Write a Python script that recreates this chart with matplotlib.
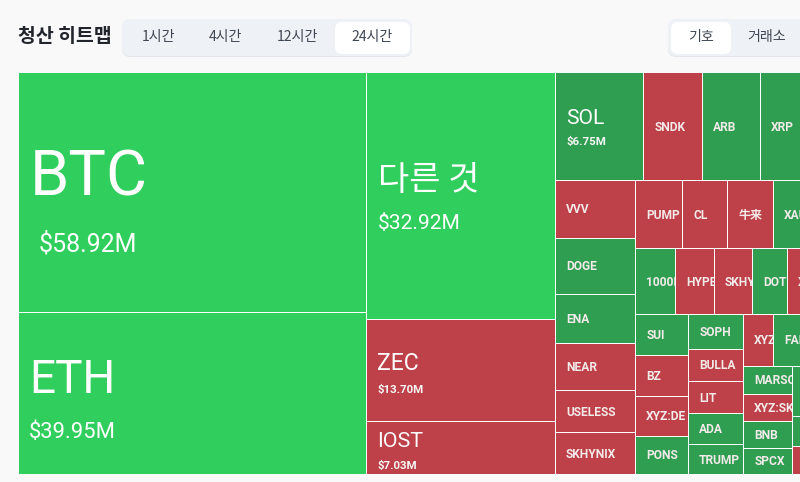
import matplotlib
matplotlib.use("Agg")
import matplotlib.pyplot as plt
from matplotlib.patches import Rectangle, FancyBboxPatch

# ---- data ($M; tiles past the crop are estimated) ----
symbols = ['BTC', 'ETH', '다른 것', 'ZEC', 'IOST',
           'SOL', 'SNDK', 'ARB', 'XRP',
           'VVV', 'DOGE', 'ENA', 'NEAR', 'USELESS', 'SKHYNIX',
           'PUMP', 'CL', '牛来', 'XAU',
           '1000P', 'HYPE', 'SKHY', 'DOT', 'XPL',
           'SUI', 'BZ', 'XYZ:DE', 'PONS',
           'SOPH', 'BULLA', 'LIT', 'ADA', 'TRUMP',
           'XYZ', 'FAR',
           'MARSO', 'XYZ:SK', 'BNB', 'SPCX',
           '', ' ', '  ']
values = [58.92, 39.95, 32.92, 13.70, 7.03,
          6.75, 4.52, 4.39, 4.30,
          3.25, 3.18, 2.80, 2.67, 2.38, 2.37,
          2.25, 2.15, 2.20, 2.05,
          1.84, 1.81, 1.77, 1.63, 1.34,
          1.52, 1.54, 1.50, 1.42,
          1.36, 1.25, 1.25, 1.21, 1.16,
          1.10, 1.56,
          0.97, 0.94, 0.93, 0.91,
          0.83, 0.50, 0.47]
kinds = ['top', 'top', 'top', 'short', 'short',
         'long', 'short', 'long', 'long',
         'short', 'long', 'long', 'short', 'short', 'short',
         'short', 'short', 'short', 'long',
         'long', 'short', 'short', 'long', 'short',
         'long', 'short', 'short', 'long',
         'long', 'short', 'short', 'long', 'long',
         'short', 'long',
         'long', 'short', 'long', 'long',
         'long', 'long', 'short']
tabs_time = ['1시간', '4시간', '12시간', '24시간']
tabs_group = ['기호', '거래소']
title = '청산 히트맵'

value_of = dict(zip(symbols, values))
kind_of = dict(zip(symbols, kinds))

# nesting of the treemap: 'h' lays children side by side, 'v' stacks them
tree = ('h', [
    ('v', ['BTC', 'ETH']),
    ('v', ['다른 것', 'ZEC', 'IOST']),
    ('v', [
        ('h', ['SOL', 'SNDK', 'ARB', 'XRP']),
        ('h', [
            ('v', ['VVV', 'DOGE', 'ENA', 'NEAR', 'USELESS', 'SKHYNIX']),
            ('v', [
                ('h', ['PUMP', 'CL', '牛来', 'XAU']),
                ('h', ['1000P', 'HYPE', 'SKHY', 'DOT', 'XPL']),
                ('h', [
                    ('v', ['SUI', 'BZ', 'XYZ:DE', 'PONS']),
                    ('v', ['SOPH', 'BULLA', 'LIT', 'ADA', 'TRUMP']),
                    ('v', [
                        ('h', ['XYZ', 'FAR']),
                        ('h', [
                            ('v', ['MARSO', 'XYZ:SK', 'BNB', 'SPCX']),
                            ('v', ['', ' ', '  ']),
                        ]),
                    ]),
                ]),
            ]),
        ]),
    ]),
])

# ---- style ----
BG = '#F9F9FA'
COLORS = {'top': '#30CE5C', 'long': '#2F9E51', 'short': '#BE4048'}
LATIN = ['Roboto', 'Noto Sans CJK KR']
KR = ['Noto Sans CJK KR', 'Roboto']

# px-based canvas
fig = plt.figure(figsize=(8.0, 4.82), dpi=100, facecolor=BG)
ax = fig.add_axes([0, 0, 1, 1])
ax.set_xlim(0, 800)
ax.set_ylim(482, 0)
ax.axis('off')

PX = 0.72  # points per pixel at dpi 100
MAP_X, MAP_Y, MAP_H = 19.0, 73.0, 402.0
AREA_PER_M = 1412.0
GAP = 1.0


def total(node):
    if isinstance(node, str):
        return value_of[node]
    return sum(total(c) for c in node[1])


def layout(node, x, y, w, h, out):
    if isinstance(node, str):
        out[node] = (x, y, w, h)
        return
    direction, children = node
    s = total(node)
    for c in children:
        f = total(c) / s
        if direction == 'h':
            layout(c, x, y, w * f, h, out)
            x += w * f
        else:
            layout(c, x, y, w, h * f, out)
            y += h * f


rects = {}
MAP_W = AREA_PER_M * total(tree) / 401.0
layout(tree, MAP_X, MAP_Y, MAP_W, MAP_H, rects)

ax.add_patch(Rectangle((MAP_X, MAP_Y), MAP_W - GAP, MAP_H - GAP, facecolor='white',
                       edgecolor='none', zorder=1))

# big tiles: name size px, name dx, name baseline, amount size px, amount dx, amount baseline
big = {
    'BTC': (63, 10.5, 196, 25, 20, 252),
    'ETH': (46, 10, 393, 22, 10, 438.5),
    '다른 것': (34, 10.5, 190, 21, 11, 229),
    'ZEC': (23, 9.5, 369.5, 11.5, 10, 392.5),
    'IOST': (21.5, 9.5, 447, 11.5, 10, 468.5),
    'SOL': (21, 10, 124, 11.5, 10, 145),
}

for sym in symbols:
    x, y, w, h = rects[sym]
    r = Rectangle((x, y), w - GAP, h - GAP, facecolor=COLORS[kind_of[sym]],
                  edgecolor='none', zorder=2)
    ax.add_patch(r)
    if not sym.strip():
        continue
    if sym in big:
        ns, ndx, ny, vs, vdx, vy = big[sym]
        fam = KR if sym == '다른 것' else LATIN
        ax.text(x + ndx, ny, sym, fontsize=ns * PX, color='white', family=fam,
                ha='left', va='baseline', zorder=3)
        ax.text(x + vdx, vy, f'${value_of[sym]:.2f}M', fontsize=vs * PX,
                color='#F6F6F6' if vs < 15 else 'white', family=LATIN,
                ha='left', va='baseline', zorder=3,
                fontweight='bold' if vs < 15 else 'normal')
    else:
        t = ax.text(x + 10, y + (h - GAP) / 2 + 4, sym, fontsize=12 * PX, color='#F3EAEA',
                    family=LATIN, fontweight='bold', ha='left', va='baseline', zorder=3,
                    clip_on=True)
        t.set_clip_path(r)


def pill(x0, y0, x1, y1, rad, fc, z):
    p = FancyBboxPatch((x0 + rad, y0 + rad), x1 - x0 - 2 * rad, y1 - y0 - 2 * rad,
                       boxstyle=f'round,pad={rad},rounding_size={rad}',
                       facecolor=fc, edgecolor='none', linewidth=0, zorder=z)
    ax.add_patch(p)


ax.text(18, 37, title, fontsize=19.4 * PX, fontweight='bold', color='#22252B',
        family=KR, ha='left', va='center')

# time selector
pill(122, 20, 412, 57, 8, '#E3E6EA', 1)
pill(122, 19, 412, 56, 8, '#EEF1F5', 1.1)
pill(335, 22, 410, 54, 7, 'white', 1.2)
for label, cx in zip(tabs_time, [158.5, 225.5, 297.5, 372]):
    ax.text(cx, 37.5, label, fontsize=14 * PX, color='#3F4653', family=KR,
            ha='center', va='center', zorder=3)

# grouping selector
pill(668, 20, 830, 57, 8, '#E3E6EA', 1)
pill(668, 19, 830, 56, 8, '#EEF1F5', 1.1)
pill(671, 22, 731, 54, 7, 'white', 1.2)
for label, cx in zip(tabs_group, [701, 767]):
    ax.text(cx, 37.5, label, fontsize=14 * PX, color='#3F4653', family=KR,
            ha='center', va='center', zorder=3)

fig.savefig('out.png', dpi=100, facecolor=BG)
